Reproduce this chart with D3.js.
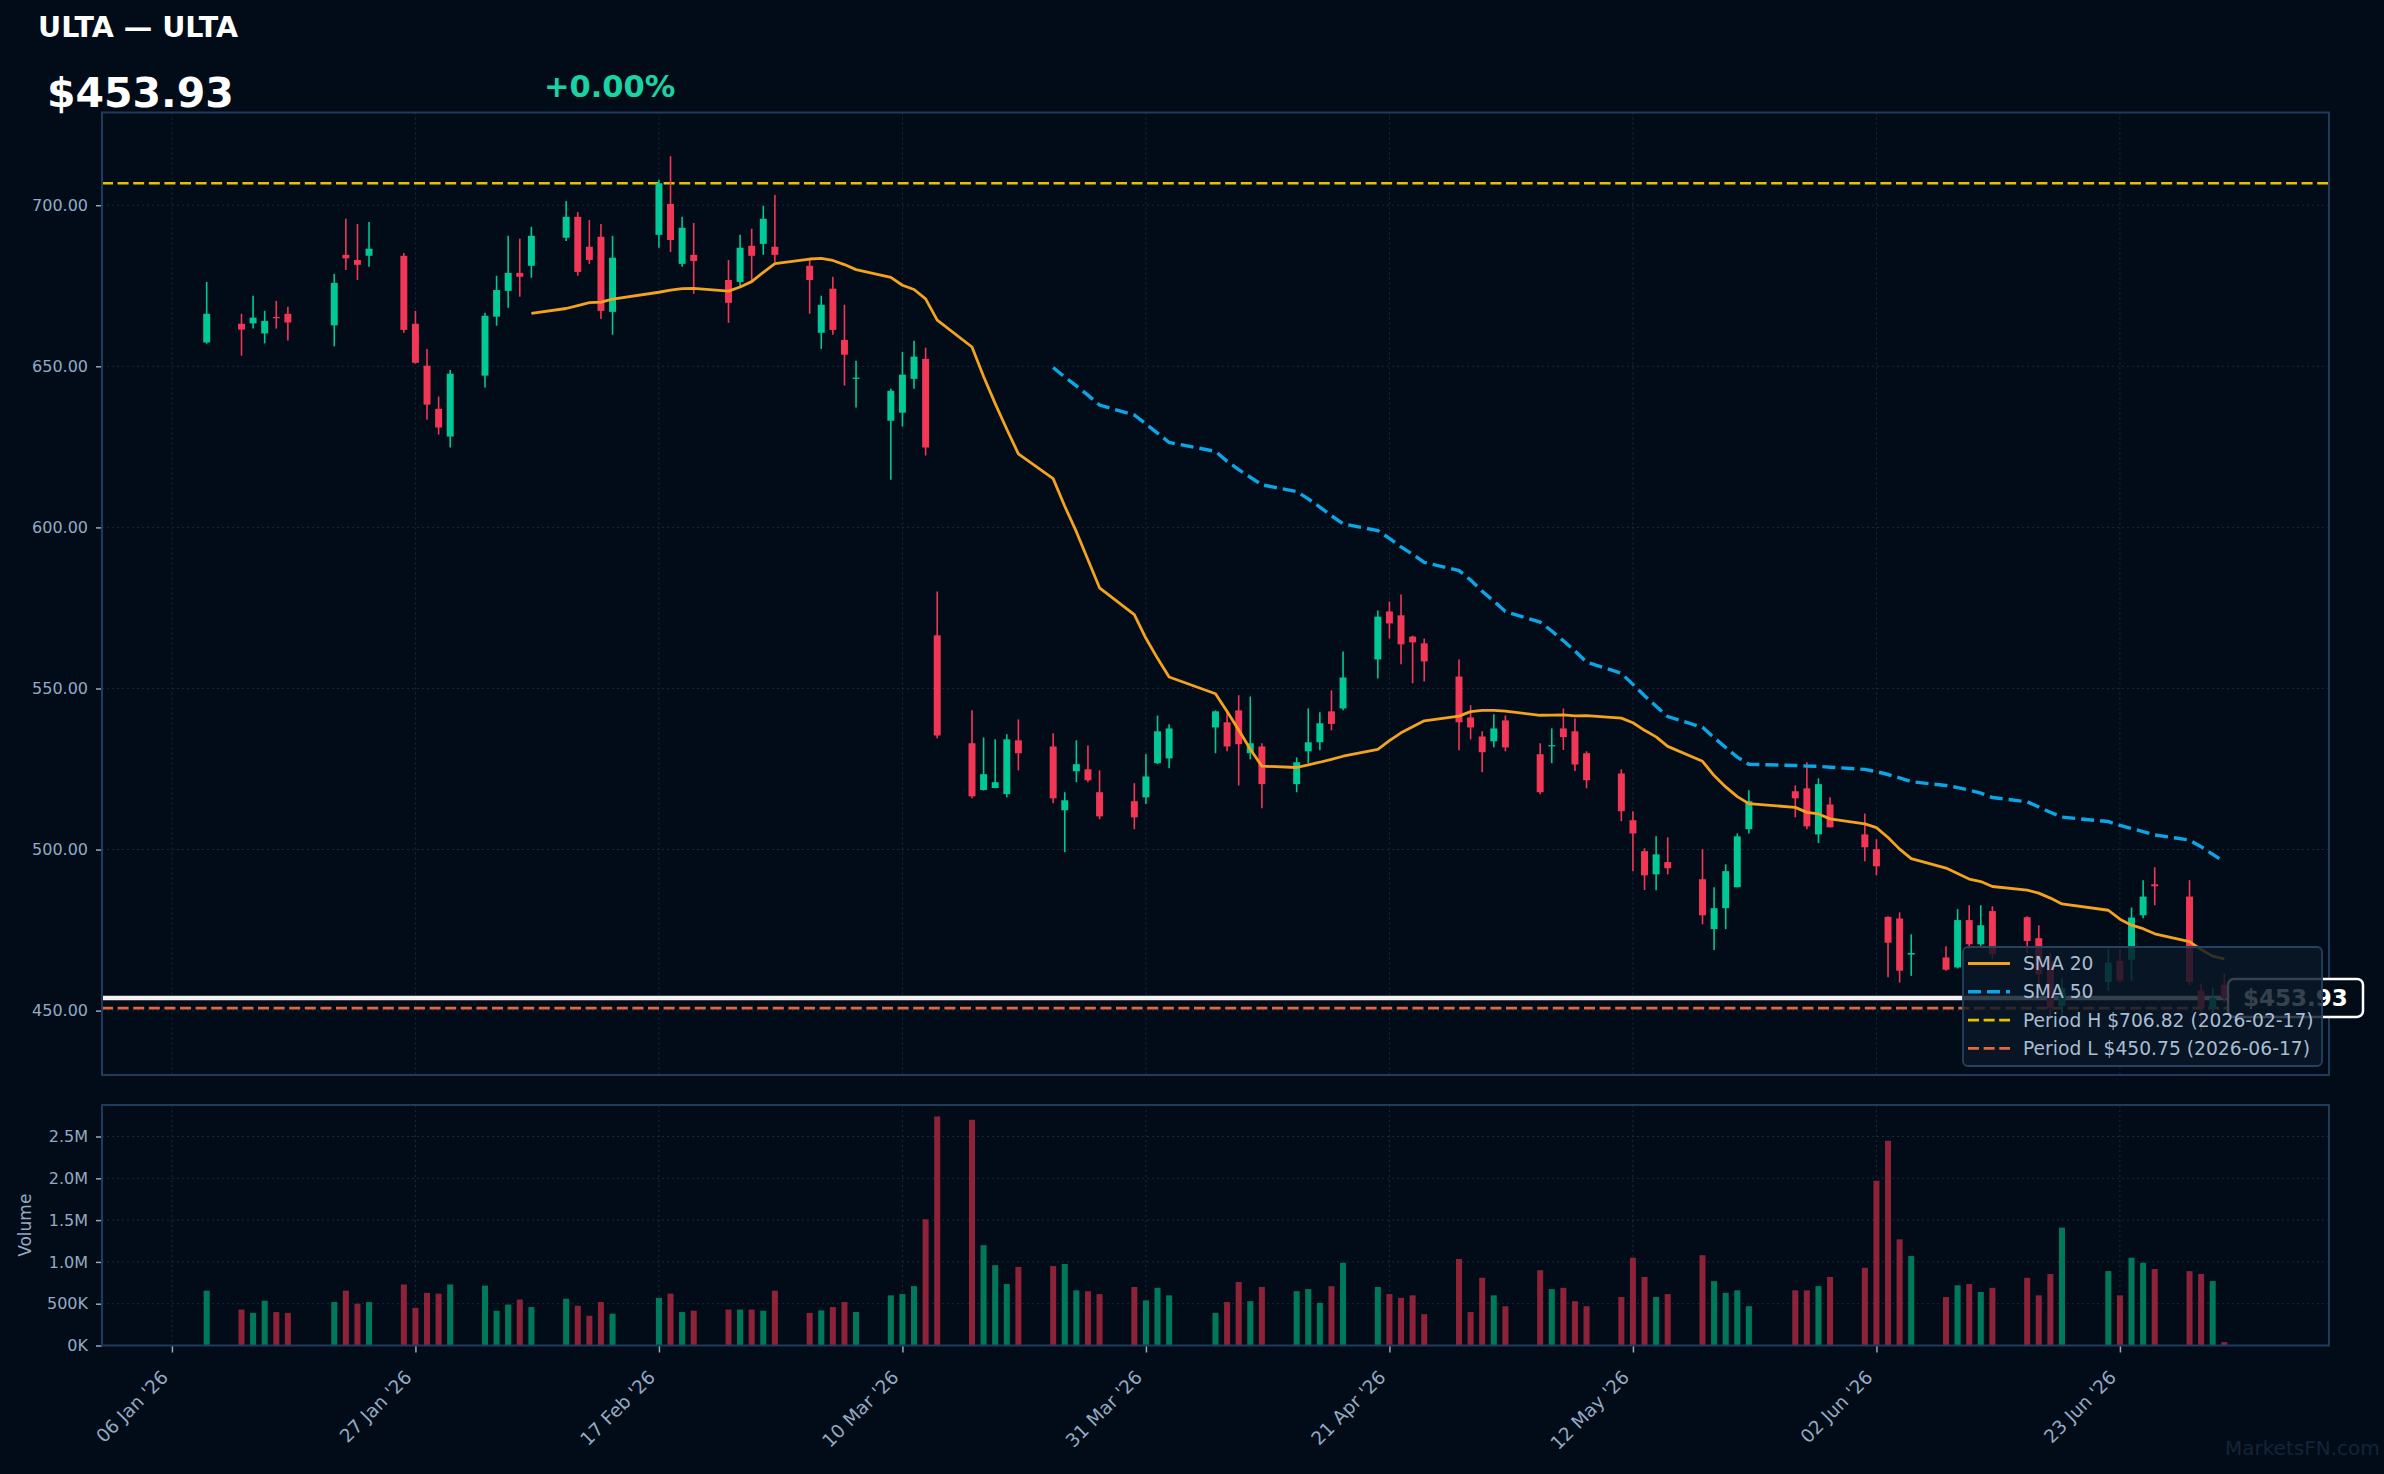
<!DOCTYPE html>
<html>
<head>
<meta charset="utf-8">
<script src="https://cdn.jsdelivr.net/npm/d3@7"></script>
<style>
  html, body { margin: 0; padding: 0; background: #020c18; }
  svg { display: block; font-family: "DejaVu Sans", sans-serif; }
</style>
</head>
<body>
<div id="chart"></div>
<script>
// ---- data ----
var dates = [
  "2026-01-09","2026-01-12","2026-01-13","2026-01-14","2026-01-15","2026-01-16","2026-01-20","2026-01-21","2026-01-22","2026-01-23",
  "2026-01-26","2026-01-27","2026-01-28","2026-01-29","2026-01-30",
  "2026-02-02","2026-02-03","2026-02-04","2026-02-05","2026-02-06","2026-02-09","2026-02-10","2026-02-11","2026-02-12","2026-02-13",
  "2026-02-17","2026-02-18","2026-02-19","2026-02-20","2026-02-23","2026-02-24","2026-02-25","2026-02-26","2026-02-27",
  "2026-03-02","2026-03-03","2026-03-04","2026-03-05","2026-03-06","2026-03-09","2026-03-10","2026-03-11","2026-03-12","2026-03-13",
  "2026-03-16","2026-03-17","2026-03-18","2026-03-19","2026-03-20","2026-03-23","2026-03-24","2026-03-25","2026-03-26","2026-03-27",
  "2026-03-30","2026-03-31",
  "2026-04-01","2026-04-02","2026-04-06","2026-04-07","2026-04-08","2026-04-09","2026-04-10","2026-04-13","2026-04-14","2026-04-15",
  "2026-04-16","2026-04-17","2026-04-20","2026-04-21","2026-04-22","2026-04-23","2026-04-24","2026-04-27","2026-04-28","2026-04-29","2026-04-30",
  "2026-05-01","2026-05-04","2026-05-05","2026-05-06","2026-05-07","2026-05-08","2026-05-11","2026-05-12","2026-05-13","2026-05-14",
  "2026-05-15","2026-05-18","2026-05-19","2026-05-20","2026-05-21","2026-05-22","2026-05-26","2026-05-27","2026-05-28","2026-05-29",
  "2026-06-01","2026-06-02","2026-06-03","2026-06-04","2026-06-05","2026-06-08","2026-06-09","2026-06-10","2026-06-11","2026-06-12",
  "2026-06-15","2026-06-16","2026-06-17","2026-06-18","2026-06-22","2026-06-23","2026-06-24","2026-06-25","2026-06-26","2026-06-29","2026-06-30",
  "2026-07-01","2026-07-02"
];

var opens = [
  657.4,663.2,663.3,660.2,665.3,666.3,662.7,684.6,683.0,684.3,684.3,663.2,650.2,636.8,628.2,
  647.1,665.4,673.4,679.0,681.2,689.9,696.4,687.1,690.2,666.9,690.8,700.4,681.8,684.6,676.8,676.2,687.4,688.0,687.1,
  681.2,660.4,674.1,658.2,646.1,633.1,635.6,646.1,652.3,566.5,533.0,518.5,519.1,517.2,533.9,532.0,512.2,524.3,524.9,517.8,515.0,516.2,
  526.8,528.3,537.9,539.5,543.2,529.9,532.0,520.3,530.5,533.3,542.9,543.8,559.0,573.9,572.7,566.1,564.0,553.7,541.0,535.1,533.6,
  540.1,529.6,532.1,537.6,536.7,529.9,523.6,509.1,499.5,492.3,496.1,490.8,475.3,481.8,488.3,506.3,518.1,519.0,504.7,514.0,
  504.7,500.1,479.1,478.6,467.4,466.5,463.4,478.1,470.6,480.9,479.0,472.5,465.4,451.5,458.9,465.4,465.8,479.6,489.2,485.4,456.2,
  450.5,458.0
];
var highs = [
  676.2,666.3,671.9,667.2,670.3,668.5,678.7,695.8,694.2,694.8,685.2,667.2,655.4,640.6,648.9,
  666.6,678.1,690.5,689.6,693.3,701.3,697.9,695.4,694.2,690.5,707.9,715.2,696.4,694.5,683.0,690.8,692.7,699.8,703.2,
  683.0,671.9,677.8,669.1,651.7,643.0,654.5,657.9,655.8,580.1,543.2,534.8,534.2,535.8,540.4,536.1,517.8,533.9,532.3,524.6,520.6,529.6,
  541.6,538.9,543.2,543.2,547.9,547.5,533.0,528.6,543.8,542.6,549.4,561.5,574.2,577.0,579.2,566.4,565.5,559.0,544.8,536.7,542.0,
  541.6,533.0,537.6,543.8,540.7,530.5,524.9,511.9,500.4,504.1,503.8,500.1,488.3,495.4,505.0,518.4,519.9,527.1,522.1,516.2,
  511.2,503.2,479.3,480.5,473.7,470.0,481.5,482.7,482.7,482.4,479.3,476.5,468.0,460.0,469.1,469.1,482.0,490.5,494.5,490.5,458.4,
  457.2,461.6
];
var lows = [
  657.0,653.3,661.7,657.1,661.7,658.0,656.2,679.9,676.8,680.9,660.4,650.8,633.4,628.8,624.8,
  643.4,662.6,668.2,671.6,677.5,688.9,678.1,681.8,664.7,659.8,686.8,685.5,680.9,672.5,663.5,674.7,676.5,684.6,682.4,
  666.3,655.4,659.8,644.0,637.2,614.8,631.3,643.0,622.3,534.5,515.9,518.3,519.0,516.2,524.6,514.4,499.2,520.9,520.9,509.4,506.3,514.1,
  526.5,525.2,529.9,530.5,519.9,528.0,512.8,517.8,526.8,530.8,537.0,543.2,553.1,565.5,557.5,551.6,552.2,530.8,534.2,524.0,531.7,
  530.5,517.2,526.8,530.9,524.4,519.0,508.8,493.3,487.4,487.4,492.3,476.8,468.8,475.3,488.3,505.0,510.0,506.3,502.0,506.9,
  496.4,492.0,460.4,458.7,460.8,462.4,463.1,469.1,470.1,466.0,467.8,458.0,447.0,447.0,456.2,458.9,459.3,478.7,482.7,458.0,443.6,
  448.0,452.5
];
var closes = [
  666.3,661.4,665.1,664.1,665.0,663.6,675.9,683.5,681.5,686.5,661.3,651.1,638.1,631.0,647.7,
  665.7,673.7,679.0,677.8,690.5,696.4,679.3,683.0,667.2,683.7,706.82,689.2,693.0,682.7,669.7,686.8,684.3,695.8,684.6,
  676.8,669.1,661.3,653.6,646.5,642.4,647.4,653.0,624.8,535.4,516.5,523.4,520.9,534.2,529.9,515.9,515.3,526.5,521.5,510.3,510.0,522.7,
  536.7,537.6,542.9,532.0,532.7,533.0,520.3,527.1,533.3,539.2,539.0,553.4,572.3,570.2,563.7,564.3,558.4,539.5,537.9,530.2,537.6,
  531.7,517.8,532.4,534.9,526.4,521.5,511.9,505.0,492.0,498.5,494.2,479.6,481.8,493.3,504.1,515.0,515.9,507.2,520.3,506.9,
  500.7,494.8,471.1,462.4,467.9,462.7,478.1,470.6,476.5,467.5,471.6,461.3,450.75,457.0,464.9,459.3,478.9,485.4,488.6,458.9,451.0,
  453.93,453.93
];
// volume in millions of shares
var volumes = [
  0.656,0.43,0.39,0.536,0.40,0.39,0.52,0.656,0.50,0.52,0.73,0.45,0.63,0.62,0.73,
  0.716,0.416,0.49,0.55,0.46,0.56,0.476,0.356,0.52,0.38,0.57,0.62,0.40,0.416,0.43,0.43,0.43,0.416,0.656,
  0.39,0.42,0.46,0.52,0.40,0.60,0.615,0.71,1.51,2.74,2.70,1.20,0.96,0.735,0.94,0.95,0.975,0.66,0.65,0.615,0.70,0.54,
  0.69,0.60,0.39,0.52,0.76,0.53,0.70,0.65,0.675,0.51,0.71,0.99,0.70,0.615,0.57,0.60,0.375,1.035,0.40,0.81,0.60,
  0.47,0.90,0.675,0.69,0.53,0.47,0.58,1.05,0.82,0.58,0.615,1.08,0.77,0.63,0.66,0.47,0.66,0.66,0.71,0.82,
  0.93,1.97,2.45,1.27,1.07,0.58,0.72,0.735,0.64,0.69,0.81,0.60,0.855,1.41,0.89,0.60,1.05,0.99,0.915,0.89,0.855,
  0.77,0.04
];

var tickDates = ["2026-01-06","2026-01-27","2026-02-17","2026-03-10","2026-03-31","2026-04-21","2026-05-12","2026-06-02","2026-06-23"];
var priceTicks = [450, 500, 550, 600, 650, 700];
var volumeTicks = [0, 0.5, 1.0, 1.5, 2.0, 2.5];

var ticker = "ULTA";
var changePct = 0.00;

// ---- layout ----
var width = 2384, height = 1474;
var left = 102, right = 2329;
var mainTop = 112.5, mainBottom = 1075;
var volTop = 1105, volBottom = 1345.5;

var upColor = "#00c896", downColor = "#f23655";
var upVol = "#00795b", downVol = "#8d2238";
var axisColor = "#1f3b5c", textColor = "#93aac3", gridColor = "#1a2a3b";

var parse = d3.utcParse("%Y-%m-%d");
var DAY = 864e5;

var data = dates.map(function(d, i) {
  return { date: parse(d), o: opens[i], h: highs[i], l: lows[i], c: closes[i], v: volumes[i] * 1e6 };
});
var last = data[data.length - 1];

var svg = d3.select("#chart").append("svg")
  .attr("width", width).attr("height", height);

svg.append("rect").attr("width", width).attr("height", height).attr("fill", "#020c18");

// x scale: candle extent plus 5% margin on each side
var xLo = +data[0].date - 0.3 * DAY, xHi = +last.date + 0.3 * DAY;
var xPad = 0.05 * (xHi - xLo);
var x = d3.scaleUtc()
  .domain([new Date(xLo - xPad), new Date(xHi + xPad)])
  .range([left, right]);

var lo = d3.min(lows), hi = d3.max(highs), yPad = 0.05 * (hi - lo);
var y = d3.scaleLinear().domain([lo - yPad, hi + yPad]).range([mainBottom, mainTop]);

var yv = d3.scaleLinear().domain([0, d3.max(data, function(d) { return d.v; }) * 1.05]).range([volBottom, volTop]);

var ticks = tickDates.map(parse);

// ---- grids ----
function grid(g, top, bottom, yScale, values) {
  g.selectAll(".vg").data(ticks).enter().append("line")
    .attr("x1", function(d) { return x(d); }).attr("x2", function(d) { return x(d); })
    .attr("y1", top).attr("y2", bottom)
    .attr("stroke", gridColor).attr("stroke-width", 1).attr("stroke-dasharray", "2,3");
  g.selectAll(".hg").data(values).enter().append("line")
    .attr("x1", left).attr("x2", right)
    .attr("y1", function(d) { return yScale(d); }).attr("y2", function(d) { return yScale(d); })
    .attr("stroke", gridColor).attr("stroke-width", 1).attr("stroke-dasharray", "2,3");
}
grid(svg.append("g"), mainTop, mainBottom, y, priceTicks);
grid(svg.append("g"), volTop, volBottom, yv, volumeTicks.map(function(v) { return v * 1e6; }));

// ---- period high / low and last price lines ----
var periodHigh = d3.max(closes), periodLow = d3.min(closes);
var fmtDate = d3.utcFormat("%Y-%m-%d");
var highDate = data[closes.indexOf(periodHigh)].date, lowDate = data[closes.indexOf(periodLow)].date;

svg.append("line")
  .attr("x1", left).attr("x2", right).attr("y1", y(periodHigh)).attr("y2", y(periodHigh))
  .attr("stroke", "#e5c100").attr("stroke-width", 2.7).attr("stroke-dasharray", "11,4.6");
svg.append("line")
  .attr("x1", left).attr("x2", right).attr("y1", y(periodLow)).attr("y2", y(periodLow))
  .attr("stroke", "#e2693a").attr("stroke-width", 2.7).attr("stroke-dasharray", "11,4.6");
svg.append("line")
  .attr("x1", left).attr("x2", right).attr("y1", y(last.c)).attr("y2", y(last.c))
  .attr("stroke", "#f2f2f2").attr("stroke-width", 4.5);

// ---- candles ----
var bodyW = x(new Date(+data[0].date + 0.6 * DAY)) - x(data[0].date);
var candles = svg.append("g").selectAll("g").data(data).enter().append("g");
candles.append("line")
  .attr("x1", function(d) { return x(d.date); }).attr("x2", function(d) { return x(d.date); })
  .attr("y1", function(d) { return y(d.h); }).attr("y2", function(d) { return y(d.l); })
  .attr("stroke", function(d) { return d.c >= d.o ? upColor : downColor; })
  .attr("stroke-width", 1.6);
candles.append("rect")
  .attr("x", function(d) { return x(d.date) - bodyW / 2; })
  .attr("width", bodyW)
  .attr("y", function(d) { return y(Math.max(d.o, d.c)); })
  .attr("height", function(d) { return Math.max(1.2, Math.abs(y(d.o) - y(d.c))); })
  .attr("fill", function(d) { return d.c >= d.o ? upColor : downColor; });

// ---- moving averages ----
function sma(n) {
  return data.map(function(d, i) {
    return { date: d.date, v: i < n - 1 ? null : d3.mean(closes.slice(i - n + 1, i + 1)) };
  });
}
var line = d3.line()
  .defined(function(d) { return d.v != null; })
  .x(function(d) { return x(d.date); })
  .y(function(d) { return y(d.v); });

svg.append("path").datum(sma(20))
  .attr("fill", "none").attr("stroke", "#f4a31f").attr("stroke-width", 2.8)
  .attr("stroke-linejoin", "round").attr("d", line);
svg.append("path").datum(sma(50))
  .attr("fill", "none").attr("stroke", "#0aa6e6").attr("stroke-width", 3.4)
  .attr("stroke-dasharray", "13,6").attr("d", line);

// ---- volume bars ----
var volW = x(new Date(+data[0].date + 0.52 * DAY)) - x(data[0].date);
svg.append("g").selectAll("rect").data(data).enter().append("rect")
  .attr("x", function(d) { return x(d.date) - volW / 2; })
  .attr("width", volW)
  .attr("y", function(d) { return yv(d.v); })
  .attr("height", function(d) { return volBottom - yv(d.v); })
  .attr("fill", function(d) { return d.c >= d.o ? upVol : downVol; });

// ---- axes ----
function styleAxis(g) {
  g.select(".domain").remove();
  g.selectAll(".tick line").attr("stroke", textColor).attr("stroke-width", 1.5);
  g.selectAll(".tick text").attr("fill", textColor).style("font-size", "16px")
    .style("font-family", "DejaVu Sans");
}

svg.append("g")
  .attr("transform", "translate(" + left + ",0)")
  .call(d3.axisLeft(y).tickValues(priceTicks).tickFormat(d3.format(".2f")).tickSize(6).tickPadding(8))
  .call(styleAxis);

function volFmt(v) {
  return v === 0 ? "0K" : v < 1e6 ? (v / 1e3) + "K" : d3.format(".1f")(v / 1e6) + "M";
}
svg.append("g")
  .attr("transform", "translate(" + left + ",0)")
  .call(d3.axisLeft(yv).tickValues(volumeTicks.map(function(v) { return v * 1e6; })).tickFormat(volFmt).tickSize(6).tickPadding(8))
  .call(styleAxis);

var xAxis = svg.append("g")
  .attr("transform", "translate(0," + volBottom + ")")
  .call(d3.axisBottom(x).tickValues(ticks).tickFormat(d3.utcFormat("%d %b '%y")).tickSize(7))
  .call(styleAxis);
xAxis.selectAll(".tick text")
  .attr("y", 0).attr("dy", 0)
  .style("font-size", "18.5px")
  .attr("text-anchor", "end")
  .attr("transform", "translate(-3,33) rotate(-45)");

// frames
[[mainTop, mainBottom], [volTop, volBottom]].forEach(function(p) {
  svg.append("rect")
    .attr("x", left).attr("y", p[0]).attr("width", right - left).attr("height", p[1] - p[0])
    .attr("fill", "none").attr("stroke", axisColor).attr("stroke-width", 2);
});

svg.append("text")
  .attr("transform", "translate(25," + (volTop + volBottom) / 2 + ") rotate(-90)")
  .attr("text-anchor", "middle").attr("dy", "0.35em")
  .attr("fill", textColor).style("font-size", "17px").text("Volume");

// ---- last price tag ----
var tag = svg.append("g").attr("transform", "translate(2228," + (y(last.c) - 19) + ")");
tag.append("rect").attr("width", 135).attr("height", 38).attr("rx", 6)
  .attr("fill", "#020c18").attr("stroke", "#ffffff").attr("stroke-width", 2.5);
tag.append("text").attr("x", 67.5).attr("y", 19).attr("dy", "0.36em")
  .attr("text-anchor", "middle").attr("fill", "#ffffff")
  .style("font-size", "23px").style("font-weight", "bold")
  .text("$" + last.c.toFixed(2));

// ---- legend ----
var legendItems = [
  { label: "SMA 20", color: "#f4a31f", dash: null, w: 3 },
  { label: "SMA 50", color: "#0aa6e6", dash: "13,6", w: 3.4 },
  { label: "Period H $" + periodHigh.toFixed(2) + " (" + fmtDate(highDate) + ")", color: "#e5c100", dash: "11,4.6", w: 2.7 },
  { label: "Period L $" + periodLow.toFixed(2) + " (" + fmtDate(lowDate) + ")", color: "#e2693a", dash: "11,4.6", w: 2.7 }
];
var legend = svg.append("g").attr("transform", "translate(1963,947)");
legend.append("rect").attr("width", 359).attr("height", 119).attr("rx", 5)
  .attr("fill", "#0a1727").attr("fill-opacity", 0.82)
  .attr("stroke", "#27415f").attr("stroke-width", 1.8);
var li = legend.selectAll(".item").data(legendItems).enter().append("g")
  .attr("transform", function(d, i) { return "translate(0," + (16.5 + i * 28.3) + ")"; });
li.append("line").attr("x1", 5).attr("x2", 47)
  .attr("stroke", function(d) { return d.color; })
  .attr("stroke-width", function(d) { return d.w; })
  .attr("stroke-dasharray", function(d) { return d.dash; });
li.append("text").attr("x", 60).attr("dy", "0.35em")
  .attr("fill", "#a9bdd3").style("font-size", "18.7px")
  .text(function(d) { return d.label; });

// ---- header ----
svg.append("text").attr("x", 38).attr("y", 36.5)
  .attr("fill", "#ffffff").style("font-size", "28.5px").style("font-weight", "bold")
  .text(ticker + " \u2014 " + ticker);
svg.append("text").attr("x", 47).attr("y", 107)
  .attr("fill", "#ffffff").style("font-size", "41px").style("font-weight", "bold")
  .text("$" + last.c.toFixed(2));
svg.append("text").attr("x", 544).attr("y", 97)
  .attr("fill", "#1ad3a5").style("font-size", "30.5px").style("font-weight", "bold")
  .text((changePct >= 0 ? "+" : "") + changePct.toFixed(2) + "%");

svg.append("text").attr("x", 2225).attr("y", 1455)
  .attr("fill", "#13243a").style("font-size", "20px")
  .text("MarketsFN.com");
</script>
</body>
</html>
